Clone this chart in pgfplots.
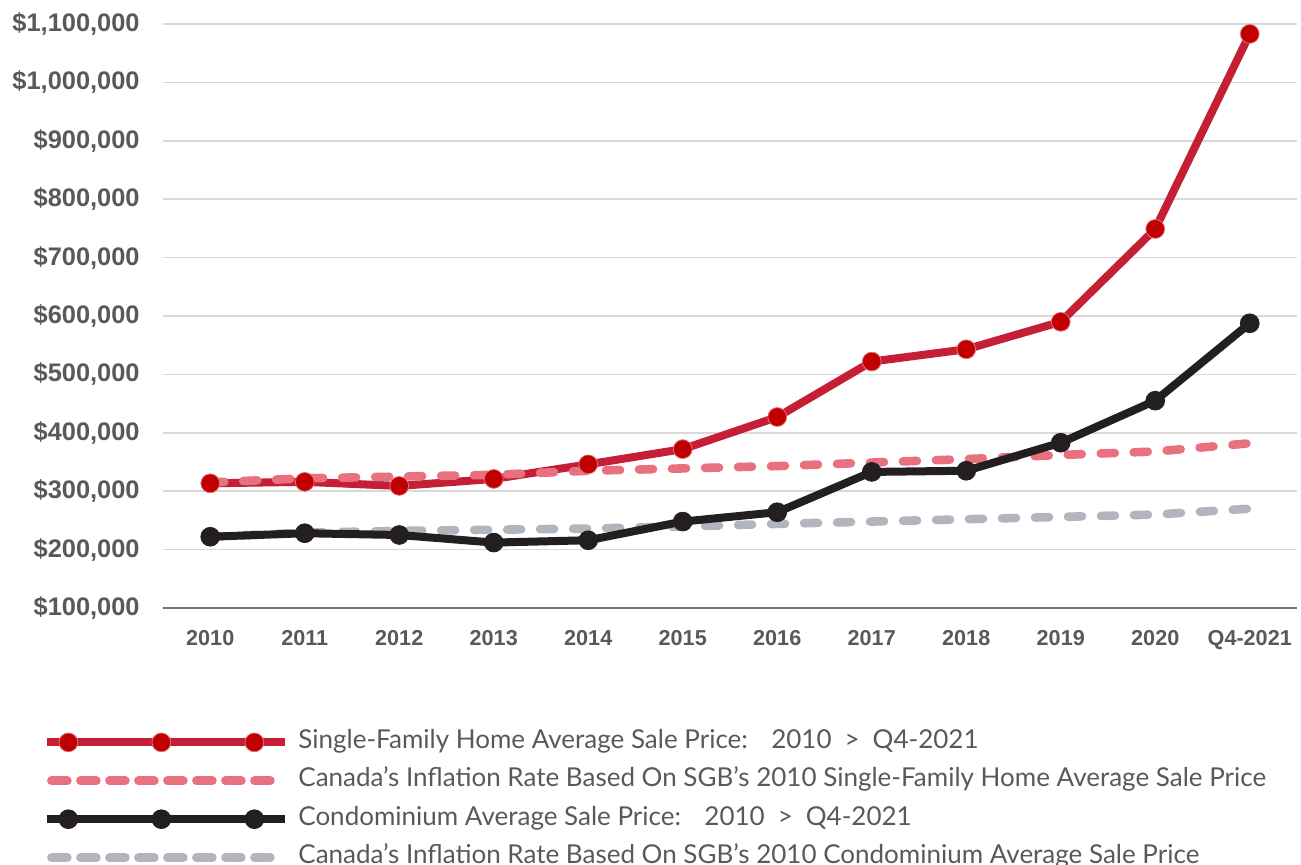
\documentclass[border=0pt]{standalone}
\usepackage{pgfplots}
\pgfplotsset{compat=1.18}
\usepackage{fontspec}
\setmainfont{Lato}
\newfontfamily\arialfont{Liberation Sans}
\newfontfamily\latofont{Lato}
\definecolor{sfred}{HTML}{C41F35}
\definecolor{sfmark}{HTML}{C00000}
\definecolor{sfmarkedge}{HTML}{E0707A}
\definecolor{sfpink}{HTML}{E8707F}
\definecolor{cblack}{HTML}{231F20}
\definecolor{cgrey}{HTML}{B3B5BE}
\definecolor{txtgrey}{HTML}{595959}
\definecolor{gridgrey}{HTML}{D9D9D9}
\pgfplotsset{
  markleg/.style={legend image code/.code={
    \draw[##1] (0pt,0pt) -- (119pt,0pt);
    \draw[##1] plot coordinates {(10.5pt,0pt) (57pt,0pt) (103.5pt,0pt)};
  }},
  dashleg/.style={legend image code/.code={
    \draw[##1, dash pattern=on 8pt off 6.5pt] (2pt,0pt) -- (117pt,0pt);
  }},
}
\begin{document}
\begin{tikzpicture}
\useasboundingbox (-81.5pt,-128.5pt) rectangle (569pt,304pt);
\begin{axis}[
  scale only axis, width=567pt, height=292pt,
  xmin=-0.5, xmax=11.5, ymin=100000, ymax=1100000,
  clip=false, scaled y ticks=false,
  xtick={0,1,2,3,4,5,6,7,8,9,10,11},
  xticklabels={2010,2011,2012,2013,2014,2015,2016,2017,2018,2019,2020,Q4-2021},
  ytick={100000,200000,300000,400000,500000,600000,700000,800000,900000,1000000,1100000},
  yticklabels={{\$100,000},{\$200,000},{\$300,000},{\$400,000},{\$500,000},{\$600,000},{\$700,000},{\$800,000},{\$900,000},{\$1,000,000},{\$1,100,000}},
  axis lines*=left,
  y axis line style={draw=none},
  x axis line style={draw=txtgrey!85, line width=0.75pt},
  major tick length=0pt,
  ymajorgrids, grid style={gridgrey, line width=0.75pt},
  xticklabel style={font=\arialfont\bfseries\fontsize{10.8}{12}\selectfont, text=txtgrey, anchor=north, inner sep=0pt, yshift=-11pt},
  yticklabel style={font=\arialfont\bfseries\fontsize{12.7}{14}\selectfont, text=txtgrey, anchor=east, inner sep=0pt, xshift=-11.5pt},
  legend cell align=left,
  legend style={at={(axis description cs:0,0)}, anchor=north west, xshift=-60pt, yshift=-61pt,
    draw=none, fill=none, inner sep=0pt, row sep=7.2pt, column sep=4.5pt,
    font=\latofont\fontsize{13}{15}\selectfont, text=txtgrey,
    nodes={inner sep=0pt, text height=9pt, text depth=3pt}},
]
% Single-family
\addplot[sfred, line width=4pt, line join=round, mark=*, mark size=4.7pt,
  mark options={fill=sfmark, draw=sfmarkedge, line width=0.4pt, solid}, markleg] coordinates {
  (0,313500) (1,316000) (2,309000) (3,321000) (4,346000) (5,372000)
  (6,427000) (7,522000) (8,543000) (9,590000) (10,749000) (11,1083000)};
\addlegendentry{Single-Family Home Average Sale Price:\hspace{0.9em}2010\hspace{0.5em}>\hspace{0.5em}Q4-2021}
% inflation single-family
\addplot[sfpink, line width=4.3pt, line cap=round, dash pattern=on 7pt off 9.5pt, mark=none, dashleg] coordinates {
  (0,315000) (1,322000) (2,325000) (3,328000) (4,335000) (5,339000)
  (6,343000) (7,349000) (8,355000) (9,362000) (10,368000) (11,382000)};
\addlegendentry{Canada’s Inflation Rate Based On SGB’s 2010 Single-Family Home Average Sale Price}
% inflation condo (drawn below condo line)
\addplot[cgrey, line width=4.3pt, line cap=round, dash pattern=on 7pt off 9.5pt, mark=none, forget plot] coordinates {
  (0,222000) (1,229000) (2,232000) (3,234000) (4,236000) (5,239500)
  (6,244000) (7,248000) (8,252000) (9,256000) (10,260000) (11,270000)};
% condo
\addplot[cblack, line width=4pt, line join=round, mark=*, mark size=4.7pt,
  mark options={fill=cblack, draw=cblack, line width=0.4pt, solid}, markleg] coordinates {
  (0,222000) (1,228000) (2,225000) (3,212000) (4,216000) (5,248000)
  (6,264000) (7,333000) (8,335000) (9,383000) (10,455000) (11,587500)};
\addlegendentry{Condominium Average Sale Price:\hspace{0.9em}2010\hspace{0.5em}>\hspace{0.5em}Q4-2021}
\addlegendimage{cgrey, line width=4.3pt, line cap=round, mark=none, dashleg}
\addlegendentry{Canada’s Inflation Rate Based On SGB’s 2010 Condominium Average Sale Price}
\end{axis}
\end{tikzpicture}
\end{document}
